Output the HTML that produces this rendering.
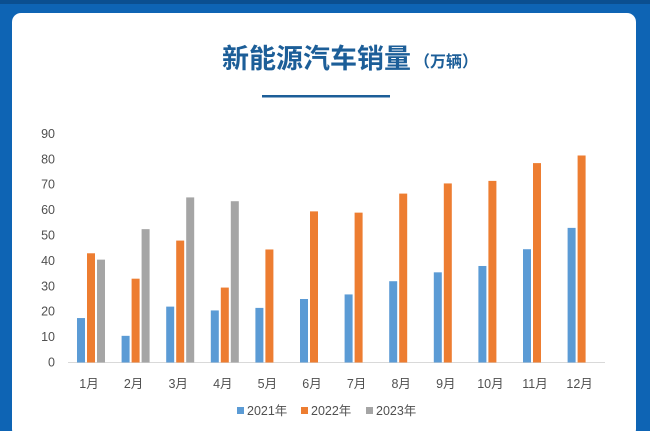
<!DOCTYPE html>
<html><head><meta charset="utf-8"><style>
html,body{margin:0;padding:0;width:650px;height:431px;overflow:hidden;background:#0e64b4;}
svg{display:block}
text{font-family:"Liberation Sans","Noto Sans CJK SC",sans-serif;}
</style></head><body>
<svg width="650" height="431" viewBox="0 0 650 431" xmlns="http://www.w3.org/2000/svg">
<rect x="0" y="0" width="650" height="431" fill="#0e64b4"/>
<rect x="0" y="0" width="650" height="4" fill="#0b4f90"/>
<rect x="12" y="13" width="624" height="425" rx="9" fill="#ffffff"/>
<text x="222" y="68" font-size="27" font-weight="bold" fill="#1c5e98" font-family="Noto Sans CJK SC, sans-serif">新能源汽车销量</text>
<text x="414" y="67" font-size="16" font-weight="bold" fill="#1c5e98" font-family="Noto Sans CJK SC, sans-serif">（万辆）</text>
<rect x="262" y="95" width="128" height="2.5" fill="#1c5e98"/>
<line x1="68" y1="362.5" x2="605" y2="362.5" stroke="#d9d9d9" stroke-width="1"/>
<g font-size="12.5" fill="#505050" text-anchor="end" id="yl"></g>
<g id="bars"></g>
<g font-size="12.5" fill="#505050" text-anchor="middle" id="xl"></g>
<g font-size="12.5" fill="#505050">
<rect x="237" y="407" width="7" height="7" fill="#5b9bd5"/><text x="247" y="415">2021年</text>
<rect x="301" y="407" width="7" height="7" fill="#ed7d31"/><text x="311" y="415">2022年</text>
<rect x="366" y="407" width="7" height="7" fill="#a5a5a5"/><text x="376" y="415">2023年</text>
</g>
<script>
var ns="http://www.w3.org/2000/svg";
function el(p,t,a,txt){var e=document.createElementNS(ns,t);for(var k in a)e.setAttribute(k,a[k]);if(txt)e.textContent=txt;document.getElementById(p).appendChild(e);}
var y0=362.5,s=2.54;
for(var v=0;v<=90;v+=10)el("yl","text",{x:55,y:y0-v*s+4},String(v));
var d1=[17.5,10.5,22,20.5,21.5,25,26.8,32,35.5,38,44.6,53];
var d2=[43,33,48,29.5,44.5,59.5,59,66.5,70.5,71.5,78.5,81.5];
var d3=[40.5,52.5,65,63.5];
for(var i=0;i<12;i++){var x=77+44.6*i;
el("bars","rect",{x:x,y:y0-d1[i]*s,width:8,height:d1[i]*s,fill:"#5b9bd5"});
el("bars","rect",{x:x+10,y:y0-d2[i]*s,width:8,height:d2[i]*s,fill:"#ed7d31"});
if(i<4)el("bars","rect",{x:x+20,y:y0-d3[i]*s,width:8,height:d3[i]*s,fill:"#a5a5a5"});
el("xl","text",{x:x+12,y:388},(i+1)+"月");}
</script>
</svg>
</body></html>
